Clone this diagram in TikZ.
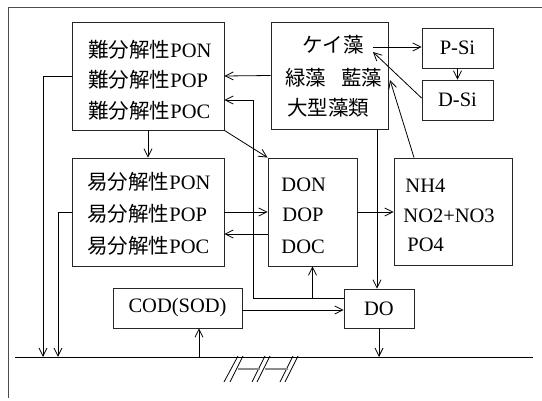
\documentclass[tikz,border=0pt]{standalone}
\usepackage{fontspec}
\setmainfont{Liberation Serif}
\newfontfamily\jp{Noto Sans CJK JP}
\usetikzlibrary{arrows.meta}
\tikzset{
  box/.style={draw=black!85, inner sep=0pt, text=black},
  txt/.style={anchor=base west, inner sep=0pt},
  arr/.style={-{Straight Barb[length=8pt,width=8pt]}, line width=0.8pt},
  hatch/.style={line width=0.8pt},
  hbar/.style={line width=1.4pt, black!45},
}
\begin{document}
\begin{tikzpicture}[x=1pt,y=-1pt, line width=0.9pt, font=\fontsize{20.5}{24}\selectfont]
\useasboundingbox (0,0) rectangle (542,401);
% frame
\draw[black!70] (8,398) -- (8,7) -- (542,7);

% boxes
\node[box, minimum width=152pt, minimum height=108pt] (A) at (148,76) {};
\node[box, minimum width=117pt, minimum height=107pt] (B) at (329.5,75.5) {};
\node[box, minimum width=71pt, minimum height=40pt] (PSi) at (457.5,48) {P-Si};
\node[box, minimum width=71pt, minimum height=40pt] (DSi) at (457.5,100) {D-Si};
\node[box, minimum width=152pt, minimum height=108pt] (C) at (148,212) {};
\node[box, minimum width=89pt, minimum height=108pt] (D) at (312.5,212) {};
\node[box, minimum width=118pt, minimum height=107pt] (E) at (453,211.5) {};
\node[box, minimum width=129pt, minimum height=40pt] (COD) at (177.5,308) {COD(SOD)};
\node[box, minimum width=70pt, minimum height=39pt] (DO) at (379,308.5) {DO};

% texts
\node[txt] (a1) at (88,58) {{\jp 難分解性}PON};
\node[txt] (a2) at (88,88) {{\jp 難分解性}POP};
\node[txt] (a3) at (88,119) {{\jp 難分解性}POC};
\node[txt] (kei) at (302,53) {\jp ケイ藻};
\node[txt] (b2) at (285,86) {\jp 緑藻\hspace{15pt}藍藻};
\node[txt] (b3) at (287,116) {\jp 大型藻類};
\node[txt] (c1) at (87,190) {{\jp 易分解性}PON};
\node[txt] (c2) at (87,222) {{\jp 易分解性}POP};
\node[txt] (c3) at (87,254) {{\jp 易分解性}POC};
\node[txt] (d1) at (281,192) {DON};
\node[txt] (d2) at (282,222) {DOP};
\node[txt] (d3) at (281,254) {DOC};
\node[txt] (e1) at (405,193) {NH4};
\node[txt] (e2) at (403,223) {NO2+NO3};
\node[txt] (e3) at (407,252) {PO4};

% ground
\coordinate (gL) at (15,357);
\coordinate (gR) at (533,357);
\draw (gL) -- (gR);
\coordinate (g1) at (43,357);
\coordinate (g2) at (58,357);
\coordinate (g3) at (199,357);
% hatch
\draw[hatch] (238,356) -- (224,382) (243,356) -- (230,382)
             (265,356) -- (252,382) (270,356) -- (257,382)
             (293,356) -- (280,382) (298,356) -- (285,382);
\draw[hbar] (238,369) -- (260,369) (265,369) -- (288,369);

% free ends
\coordinate (k1) at (373,47);
\coordinate (k2) at (373,52);
\coordinate (k3) at (390,80);
\coordinate (j1) at (253,298);

% connectors
\draw[arr] (A.west) -| (g1);
\draw[arr] (C.west) -| (g2);
\draw[arr] (B.west) -- (A.east);
\draw[arr] (j1 -| DO.west) -- (j1) |- ([yshift=-24pt]A.east);
\draw[arr] (j1 -| D.south) -- (D.south);
\draw[arr] ([yshift=-2pt]COD.east) -- ([yshift=-2pt]COD.east -| DO.west);
\draw[arr] (g3) -- (g3 |- COD.south);
\draw[arr] (DO.south) -- (DO.south |- gL);
\draw[arr] (A.south) -- (C.north);
\draw[arr] (A.south east) -- (D.north west);
\draw[arr] (C.east) -- (C.east -| D.west);
\draw[arr] ([yshift=-22pt]D.west) -- ([yshift=-22pt]D.west -| C.east);
\draw[arr] (D.east) -- (D.east -| E.west);
\draw[arr] ([xshift=-2pt]B.south -| DO.north) -- ([xshift=-2pt]DO.north);
\draw[arr] (k1) -- (k1 -| PSi.west);
\draw[arr] (PSi.south) -- (DSi.north);
\draw[arr] ([yshift=2pt]DSi.west) -- (k2);
\draw[arr] ([xshift=-39pt]E.north) -- (k3);
\end{tikzpicture}
\end{document}
